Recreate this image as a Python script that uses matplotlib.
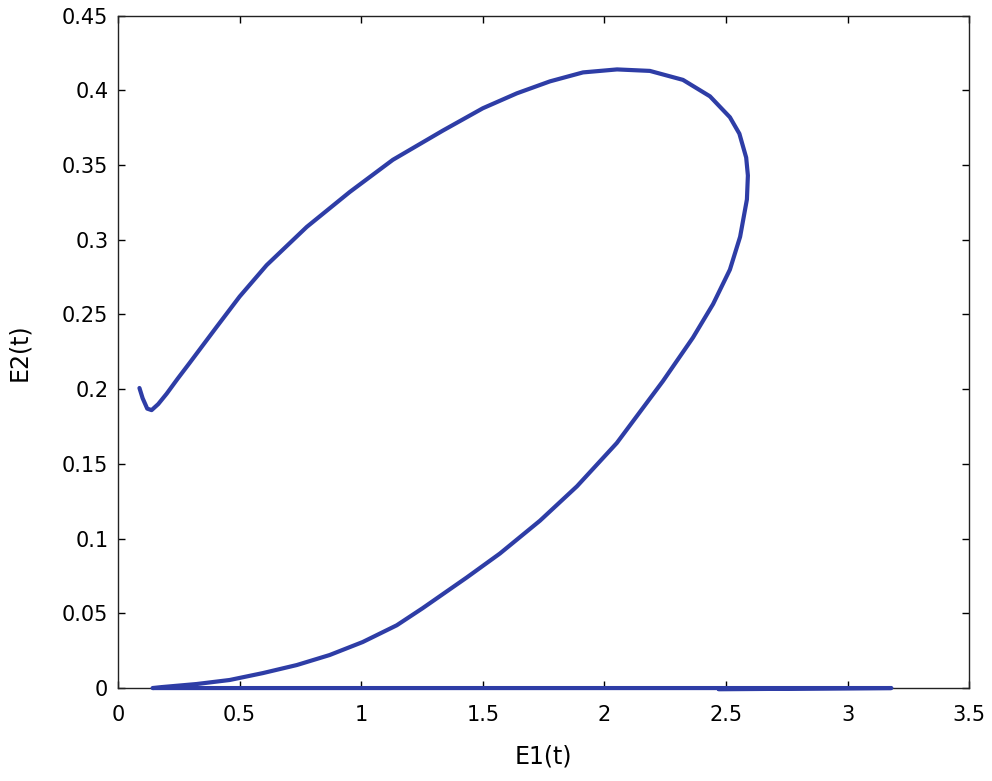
import matplotlib.pyplot as plt

plt.rcParams['font.family'] = ['DejaVu Sans']

# trajectory (E1, E2), last two points run along the E1 axis
e1 = [0.088, 0.101, 0.120, 0.138, 0.165, 0.200, 0.245, 0.294, 0.405, 0.500,
      0.611, 0.776, 0.953, 1.130, 1.335, 1.500, 1.640, 1.776, 1.912, 2.052,
      2.187, 2.323, 2.434, 2.516, 2.555, 2.583, 2.590, 2.586, 2.558, 2.516,
      2.447, 2.364, 2.241, 2.051, 1.887, 1.735, 1.570, 1.434, 1.253, 1.146,
      1.006, 0.870, 0.735, 0.595, 0.459, 0.323, 0.183, 0.142, 3.18, 2.47]
e2 = [0.2008, 0.194, 0.187, 0.186, 0.190, 0.197, 0.207, 0.2175, 0.2416, 0.262,
      0.283, 0.3086, 0.332, 0.3535, 0.373, 0.388, 0.398, 0.406, 0.412, 0.414,
      0.413, 0.407, 0.396, 0.382, 0.371, 0.355, 0.343, 0.327, 0.302, 0.280,
      0.257, 0.2345, 0.2055, 0.164, 0.135, 0.112, 0.090, 0.074, 0.0535, 0.042,
      0.0308, 0.0221, 0.0154, 0.0100, 0.0054, 0.0027, 0.0007, 0.0, 0.0, -0.0008]

xticks = [0, 0.5, 1, 1.5, 2, 2.5, 3, 3.5]
yticks = [0, 0.05, 0.1, 0.15, 0.2, 0.25, 0.3, 0.35, 0.4, 0.45]

fig = plt.figure(figsize=(9.92, 7.81), dpi=100)
ax = fig.add_axes([0.119, 0.119, 0.858, 0.861])

ax.plot(e1, e2, color='#2E3DA6', linewidth=3.0, clip_on=False, zorder=3,
        solid_joinstyle='round', solid_capstyle='round')

ax.set_xlim(0, 3.5)
ax.set_ylim(0, 0.45)
ax.set_xticks(xticks)
ax.set_xticklabels([f'{t:g}' for t in xticks])
ax.set_yticks(yticks)
ax.set_yticklabels([f'{t:g}' for t in yticks])
ax.tick_params(direction='in', top=True, right=True, labelsize=15,
               length=5, width=1)
ax.tick_params(axis='x', pad=12)
ax.tick_params(axis='y', pad=7)
for s in ax.spines.values():
    s.set_linewidth(1)
    s.set_color('#222222')

ax.set_xlabel('E1(t)', fontsize=17, labelpad=14)
ax.set_ylabel('E2(t)', fontsize=17, labelpad=22)

fig.savefig('out.png', dpi=100)
